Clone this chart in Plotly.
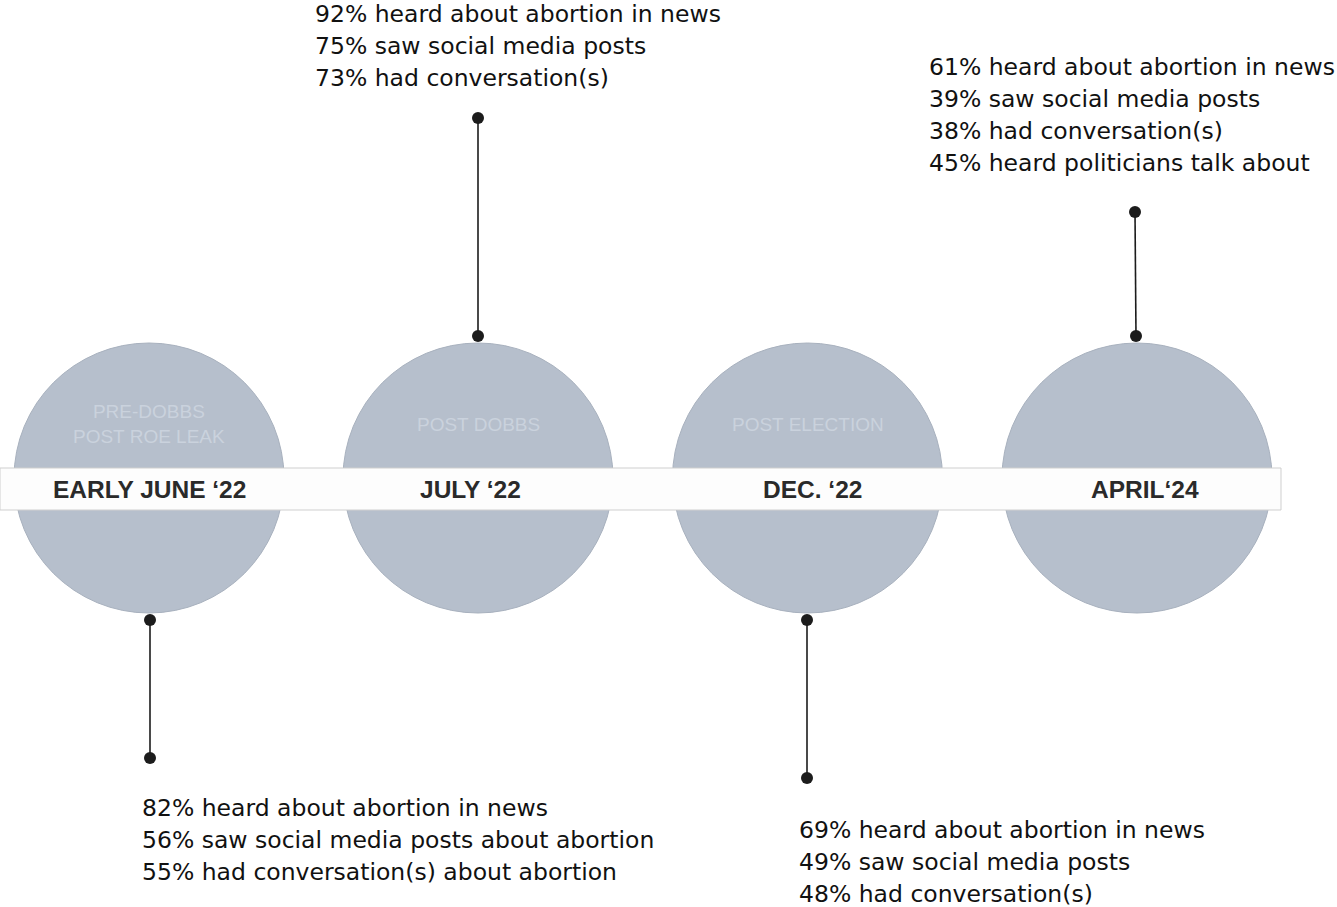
import plotly.graph_objects as go

# ---------------- data ----------------
periods = ["EARLY JUNE \u201822", "JULY \u201822", "DEC. \u201822", "APRIL\u201824"]
phases = ["PRE-DOBBS<br>POST ROE LEAK", "POST DOBBS", "POST ELECTION", ""]
heard_news = [82, 92, 69, 61]
saw_social = [56, 75, 49, 39]
had_conversation = [55, 73, 48, 38]
heard_politicians = [None, None, None, 45]
suffix = [" about abortion", "", "", ""]

# ---------------- layout (pixel space) ----------------
W, H = 1337, 907
circle_x = [149, 478, 807.5, 1137]
circle_y = 478
radius = 135
label_x = [149.5, 470.5, 812.5, 1144.5]
pin_dir = [1, -1, 1, -1]          # 1 = pin below circle, -1 = above
pin_end_y = [758, 118, 778, 212]
pin_end_x = [150, 478, 807, 1135]
pin_start_x = [150, 478, 807, 1136]
block_x = [140, 313, 797, 927]
block_y0 = [808, 14, 830, 67]
line_gap = 32

band_y0, band_y1, band_x1 = 468, 510, 1281
circle_fill = "#b6bfcc"
text_font = "DejaVu Sans"
text_size = 23.5

fig = go.Figure()
shapes = []
for cx in circle_x:
    shapes.append(dict(type="circle", xref="x", yref="y",
                       x0=cx - radius, x1=cx + radius,
                       y0=circle_y - radius, y1=circle_y + radius,
                       fillcolor=circle_fill, line=dict(color="#a8b1be", width=1),
                       layer="below"))
shapes.append(dict(type="rect", xref="x", yref="y", x0=0, x1=band_x1,
                   y0=band_y0, y1=band_y1, fillcolor="#fdfdfd",
                   line=dict(color="#cfcfcf", width=1), layer="below"))

# pins
for i, cx in enumerate(circle_x):
    start_y = circle_y + pin_dir[i] * (radius + 7)
    fig.add_trace(go.Scatter(
        x=[pin_start_x[i], pin_end_x[i]], y=[start_y, pin_end_y[i]],
        mode="lines+markers",
        line=dict(color="#1c1c1c", width=1.6),
        marker=dict(size=12, color="#1c1c1c"),
        hoverinfo="skip", showlegend=False))

annotations = []
# band labels
for i, p in enumerate(periods):
    annotations.append(dict(x=label_x[i], y=(band_y0 + band_y1) / 2, xref="x", yref="y",
                            text="<b>" + p + "</b>", showarrow=False,
                            xanchor="center", yanchor="middle",
                            font=dict(family="Liberation Sans, Arial", size=24.5, color="#2a2a2a")))
# phase labels in circles
for i, ph in enumerate(phases):
    if ph:
        annotations.append(dict(x=circle_x[i], y=424, xref="x", yref="y",
                                text=ph, showarrow=False,
                                xanchor="center", yanchor="middle",
                                font=dict(family="Liberation Sans, Arial", size=19,
                                          color="#cad2dd")))
# stat blocks
for i in range(len(periods)):
    lines = [f"{heard_news[i]}% heard about abortion in news",
             f"{saw_social[i]}% saw social media posts{suffix[i]}",
             f"{had_conversation[i]}% had conversation(s){suffix[i]}"]
    if heard_politicians[i] is not None:
        lines.append(f"{heard_politicians[i]}% heard politicians talk about")
    for j, t in enumerate(lines):
        annotations.append(dict(x=block_x[i], y=block_y0[i] + j * line_gap,
                                xref="x", yref="y", text=t, showarrow=False,
                                xanchor="left", yanchor="middle",
                                font=dict(family=text_font, size=text_size, color="#111111")))

fig.update_layout(
    width=W, height=H, margin=dict(l=0, r=0, t=0, b=0),
    paper_bgcolor="white", plot_bgcolor="white",
    xaxis=dict(range=[0, W], visible=False, fixedrange=True),
    yaxis=dict(range=[H, 0], visible=False, fixedrange=True),
    shapes=shapes, annotations=annotations, showlegend=False,
)
fig.write_html("out.html", config={"displayModeBar": False},
               post_script="document.body.style.margin='0px';document.body.style.overflow='hidden';")
